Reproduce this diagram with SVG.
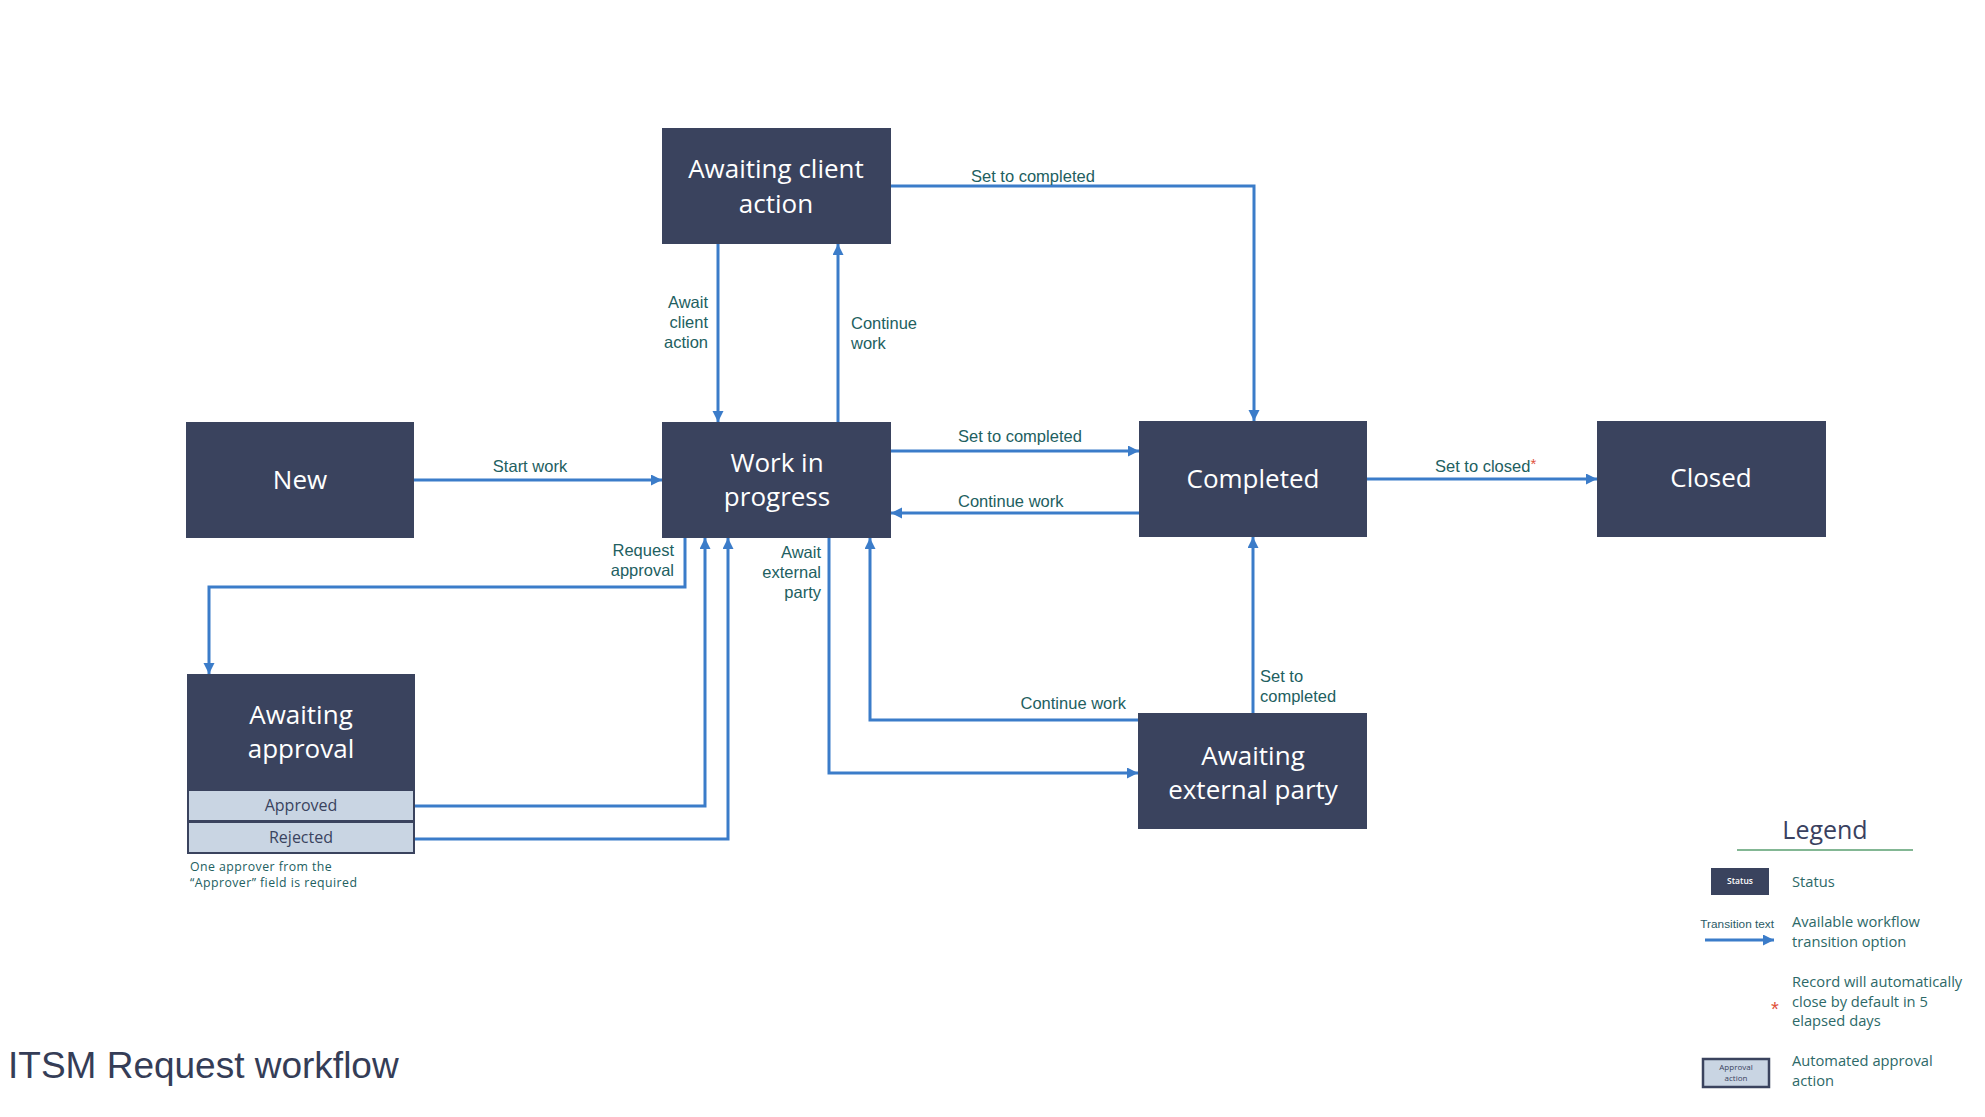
<svg xmlns="http://www.w3.org/2000/svg" width="1985" height="1117" viewBox="0 0 1985 1117">
<style>
.box{fill:#3a435e}
.nt{font-family:"Open Sans","Noto Sans",sans-serif;font-size:26px;font-weight:500;fill:#ffffff;text-anchor:middle}
.lbl{font-family:"Liberation Sans",Arial,sans-serif;font-size:16.5px;fill:#22605f}
.end{text-anchor:end}
.mid{text-anchor:middle}
.con{fill:none;stroke:#3b7cc9;stroke-width:3}
.sub{fill:#c9d5e3}
.subt{font-family:"Open Sans","Noto Sans",sans-serif;font-size:16px;fill:#3a435e;text-anchor:middle}
.note{font-family:"Open Sans","Noto Sans",sans-serif;font-size:12.3px;letter-spacing:0.45px;fill:#22605f}
.leg{font-family:"Open Sans","Noto Sans",sans-serif;font-size:14.7px;fill:#2d6968}
.red{fill:#e0503a}
</style>
<defs>
<marker id="ah" markerUnits="userSpaceOnUse" markerWidth="12" markerHeight="12" refX="11" refY="5.5" orient="auto">
<path d="M0,0 L11,5.5 L0,11 z" fill="#3b7cc9"/>
</marker>
</defs>
<rect width="1985" height="1117" fill="#ffffff"/>

<g id="connectors">
<path class="con" d="M414,480 H662" marker-end="url(#ah)"/>
<path class="con" d="M838,422 V244" marker-end="url(#ah)"/>
<path class="con" d="M718,244 V422" marker-end="url(#ah)"/>
<path class="con" d="M891,186 H1254 V421" marker-end="url(#ah)"/>
<path class="con" d="M891,451 H1139" marker-end="url(#ah)"/>
<path class="con" d="M1139,513 H891" marker-end="url(#ah)"/>
<path class="con" d="M1367,479 H1597" marker-end="url(#ah)"/>
<path class="con" d="M685,538 V587 H209 V674" marker-end="url(#ah)"/>
<path class="con" d="M415,806 H705 V538" marker-end="url(#ah)"/>
<path class="con" d="M415,839 H728 V538" marker-end="url(#ah)"/>
<path class="con" d="M829,538 V773 H1138" marker-end="url(#ah)"/>
<path class="con" d="M1138,720 H870 V538" marker-end="url(#ah)"/>
<path class="con" d="M1253,713 V537" marker-end="url(#ah)"/>

<text class="lbl mid" x="530" y="472">Start work</text>
<text class="lbl end" x="708" y="308">Await</text>
<text class="lbl end" x="708" y="328">client</text>
<text class="lbl end" x="708" y="348">action</text>
<text class="lbl" x="851" y="329">Continue</text>
<text class="lbl" x="851" y="349">work</text>
<text class="lbl" x="971" y="182">Set to completed</text>
<text class="lbl" x="958" y="442">Set to completed</text>
<text class="lbl" x="958" y="507">Continue work</text>
<text class="lbl" x="1435" y="472">Set to closed<tspan class="red" dy="-3" font-size="15">*</tspan></text>
<text class="lbl end" x="674" y="556">Request</text>
<text class="lbl end" x="674" y="576">approval</text>
<text class="lbl end" x="821" y="558">Await</text>
<text class="lbl end" x="821" y="578">external</text>
<text class="lbl end" x="821" y="598">party</text>
<text class="lbl end" x="1126" y="709">Continue work</text>
<text class="lbl" x="1260" y="682">Set to</text>
<text class="lbl" x="1260" y="702">completed</text>
</g>

<g id="node-new">
<rect class="box" x="186" y="422" width="228" height="116"/>
<text class="nt" x="300" y="489">New</text>
</g>

<g id="node-wip">
<rect class="box" x="662" y="422" width="229" height="116"/>
<text class="nt" x="777" y="472">Work in</text>
<text class="nt" x="777" y="506">progress</text>
</g>

<g id="node-awaiting-client">
<rect class="box" x="662" y="128" width="229" height="116"/>
<text class="nt" x="776" y="178">Awaiting client</text>
<text class="nt" x="776" y="213">action</text>
</g>

<g id="node-completed">
<rect class="box" x="1139" y="421" width="228" height="116"/>
<text class="nt" x="1253" y="488">Completed</text>
</g>

<g id="node-closed">
<rect class="box" x="1597" y="421" width="229" height="116"/>
<text class="nt" x="1711" y="487">Closed</text>
</g>

<g id="node-awaiting-approval">
<rect class="box" x="187" y="674" width="228" height="180"/>
<rect class="sub" x="189" y="791" width="224" height="29"/>
<rect class="sub" x="189" y="823" width="224" height="29"/>
<text class="nt" x="301" y="724">Awaiting</text>
<text class="nt" x="301" y="758">approval</text>
<text class="subt" x="301" y="811">Approved</text>
<text class="subt" x="301" y="843">Rejected</text>
<text class="note" x="190" y="871">One approver from the</text>
<text class="note" x="190" y="887">“Approver” field is required</text>
</g>

<g id="node-awaiting-external">
<rect class="box" x="1138" y="713" width="229" height="116"/>
<text class="nt" x="1253" y="765">Awaiting</text>
<text class="nt" x="1253" y="799">external party</text>
</g>

<g id="legend">
<text x="1825" y="839" font-family="'Open Sans','Noto Sans',sans-serif" font-size="25" fill="#3a4160" text-anchor="middle">Legend</text>
<line x1="1737" y1="850" x2="1913" y2="850" stroke="#5a9f70" stroke-width="1.5"/>
<rect class="box" x="1711" y="868" width="58" height="27"/>
<text x="1740" y="884" font-family="'Open Sans','Noto Sans',sans-serif" font-size="8.5" font-weight="600" fill="#ffffff" text-anchor="middle">Status</text>
<text class="leg" x="1792" y="887">Status</text>
<text x="1774" y="928" font-family="'Liberation Sans',Arial,sans-serif" font-size="11.8" fill="#2b5a66" text-anchor="end">Transition text</text>
<path class="con" d="M1705,940 H1774" marker-end="url(#ah)"/>
<text class="leg" x="1792" y="927">Available workflow</text>
<text class="leg" x="1792" y="947">transition option</text>
<text class="red" x="1775" y="1016" font-family="'Liberation Sans',Arial,sans-serif" font-size="20" text-anchor="middle">*</text>
<text class="leg" x="1792" y="987">Record will automatically</text>
<text class="leg" x="1792" y="1007">close by default in 5</text>
<text class="leg" x="1792" y="1026">elapsed days</text>
<rect x="1703" y="1059" width="66" height="28" fill="#c9d5e3" stroke="#3a435e" stroke-width="2.5"/>
<text x="1736" y="1070" font-family="'Open Sans','Noto Sans',sans-serif" font-size="8" fill="#3a435e" text-anchor="middle">Approval</text>
<text x="1736" y="1081" font-family="'Open Sans','Noto Sans',sans-serif" font-size="8" fill="#3a435e" text-anchor="middle">action</text>
<text class="leg" x="1792" y="1066">Automated approval</text>
<text class="leg" x="1792" y="1086">action</text>
</g>

<text id="title" x="8" y="1078" font-family="'Liberation Sans',Arial,sans-serif" font-size="37" fill="#353d57">ITSM Request workflow</text>
</svg>
